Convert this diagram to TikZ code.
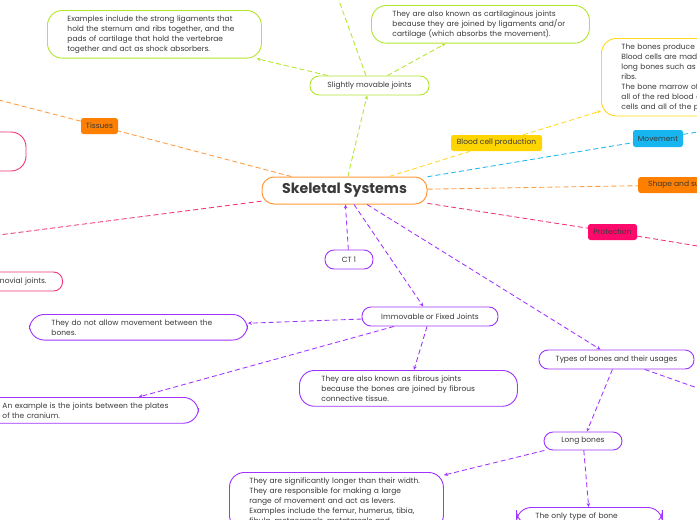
\documentclass[tikz,border=0pt]{standalone}
\usepackage{fontspec}
\setmainfont{Poppins}
\usetikzlibrary{arrows.meta}

\definecolor{textgrey}{HTML}{3A3A3A}
\definecolor{orangeline}{HTML}{FF9A3D}
\definecolor{orangetag}{HTML}{FF8000}
\definecolor{limeline}{HTML}{B2E62E}
\definecolor{yellowline}{HTML}{FFD91A}
\definecolor{yellowtag}{HTML}{FFD500}
\definecolor{cyanline}{HTML}{22B7EF}
\definecolor{cyantag}{HTML}{18B6F0}
\definecolor{pinkline}{HTML}{F2337C}
\definecolor{pinktag}{HTML}{FF0A6C}
\definecolor{purpleline}{HTML}{A033FF}

\begin{document}
\begin{tikzpicture}[x=1pt,y=-1pt,
  every node/.style={text=textgrey, font=\fontsize{7.5}{10}\selectfont},
  pill/.style={draw, fill=white, line width=0.9pt, rounded corners=9pt, minimum height=19pt, inner sep=0pt},
  notebox/.style={draw, fill=white, line width=0.9pt, rounded corners=15pt, align=left, inner xsep=20pt, inner ysep=5pt, anchor=north west},
  tag/.style={fill=#1, rounded corners=2.5pt, minimum height=16pt, inner sep=0pt},
  branch/.style={draw=#1, line width=0.85pt, dash pattern=on 5pt off 3pt},
  arr/.style={-{Stealth[length=4pt,width=3.5pt]}}
]
\useasboundingbox (0,0) rectangle (697,520);
\clip (0,0) rectangle (697,520);
\fill[white] (0,0) rectangle (697,520);

% main topic
\node[pill, draw=orangeline, line width=1pt, rounded corners=12pt, minimum width=165pt, minimum height=27pt, font=\fontsize{14.2}{16}\selectfont\bfseries] (skel) at (344.5,190.5) {Skeletal Systems};

% slightly movable joints
\node[pill, draw=limeline, minimum width=119pt] (slight) at (369.5,85.5) {Slightly movable joints};
\node[notebox, draw=limeline, text width=174pt] (ligam) at (47,10) {Examples include the strong ligaments that\\hold the sternum and ribs together, and the\\pads of cartilage that hold the vertebrae\\together and act as shock absorbers.};
\node[notebox, draw=limeline, text width=176pt, inner xsep=21pt] (cartil) at (371,5) {They are also known as cartilaginous joints\\because they are joined by ligaments and/or\\cartilage (which absorbs the movement).};
\coordinate (slightup) at (328,-30);

% tissues and the left side
\node[tag=orangetag, minimum width=37pt] (tissues) at (99.5,126) {Tissues};
\coordinate (tissuesoff) at (-40,90);
\node[pill, draw=pinkline, rounded corners=15pt, minimum width=206pt, minimum height=39pt] (pinkbox) at (-77,151.5) {};
\coordinate (pinkoff) at (-40,240);
\node[pill, draw=pinkline, text width=110pt, align=right, inner xsep=16pt, anchor=east] (synov) at (63,281.5) {novial joints.};

% immovable joints
\node[pill, draw=purpleline, minimum width=48pt] (ct) at (349,259.5) {CT 1};
\node[pill, draw=purpleline, minimum width=136pt] (immov) at (430,316.5) {Immovable or Fixed Joints};
\node[notebox, draw=purpleline, text width=174pt, inner xsep=22pt] (nomove) at (29,314) {They do not allow movement between the\\bones.};
\node[notebox, draw=purpleline, text width=176pt] (cranium) at (-18,397) {An example is the joints between the plates\\of the cranium.};
\node[notebox, draw=purpleline, text width=174pt, inner xsep=22pt] (fibrous) at (299,370) {They are also known as fibrous joints\\because the bones are joined by fibrous\\connective tissue.};

% types of bones
\node[pill, draw=purpleline, minimum width=155pt] (types) at (616.5,359.5) {Types of bones and their usages};
\coordinate (typesoff) at (760,410);
\node[pill, draw=purpleline, minimum width=78pt, minimum height=18pt] (long) at (583,441) {Long bones};
\node[notebox, draw=purpleline, text width=174pt] (longtxt) at (229,472) {They are significantly longer than their width.\\They are responsible for making a large\\range of movement and act as levers.\\Examples include the femur, humerus, tibia,\\fibula, metacarpals, metatarsals and};
\node[notebox, draw=purpleline, text width=108pt, inner xsep=19pt] (onlytype) at (516,507) {The only type of bone};

% right side
\node[tag=yellowtag, minimum width=91pt] (blood) at (496.5,143) {Blood cell production};
\node[notebox, draw=yellowline, text width=180pt] (bloodtxt) at (601,38) {The bones produce blood cells.\\Blood cells are made in the marrow of\\long bones such as the femur and the\\ribs.\\The bone marrow of long bones makes\\all of the red blood cells, some white\\cells and all of the platelets.};
\node[tag=cyantag, minimum width=50pt, minimum height=17pt] (move) at (658,138.5) {Movement};
\coordinate (moveoff) at (740,125);
\node[tag=orangetag, anchor=west, minimum width=92pt] (shape) at (638,185) {Shape and support};
\node[tag=pinktag, minimum width=49pt] (protect) at (612.5,232) {Protection};
\coordinate (protectoff) at (740,253);

% connectors
\draw[branch=limeline, arr] (skel) -- (slight);
\draw[branch=limeline, arr] (slight) -- (ligam);
\draw[branch=limeline, arr] (slight) -- (cartil);
\draw[branch=limeline, arr] (slight) -- (slightup);
\draw[branch=orangeline] (skel) -- (tissues);
\draw[branch=orangeline] (tissues) -- (tissuesoff);
\draw[branch=pinkline] (skel) -- (pinkoff);
\draw[branch=purpleline, arr] (ct) -- (skel);
\draw[branch=purpleline, arr] (skel) -- (immov);
\draw[branch=purpleline, arr] (immov) -- (nomove);
\draw[branch=purpleline, arr] (immov) -- (cranium);
\draw[branch=purpleline, arr] (immov) -- (fibrous);
\draw[branch=purpleline, arr] (skel) -- (types);
\draw[branch=purpleline, arr] (types) -- (typesoff);
\draw[branch=purpleline, arr] (types) -- (long);
\draw[branch=purpleline, arr] (long) -- (longtxt);
\draw[branch=purpleline, arr] (long) -- (onlytype);
\draw[branch=yellowline] (skel) -- (blood);
\draw[branch=yellowline, arr] (blood) -- (bloodtxt);
\draw[branch=cyanline] (skel) -- (move);
\draw[branch=cyanline] (move) -- (moveoff);
\draw[branch=orangeline] (skel) -- (shape);
\draw[branch=pinkline] (skel) -- (protect);
\draw[branch=pinkline] (protect) -- (protectoff);

\end{tikzpicture}
\end{document}
